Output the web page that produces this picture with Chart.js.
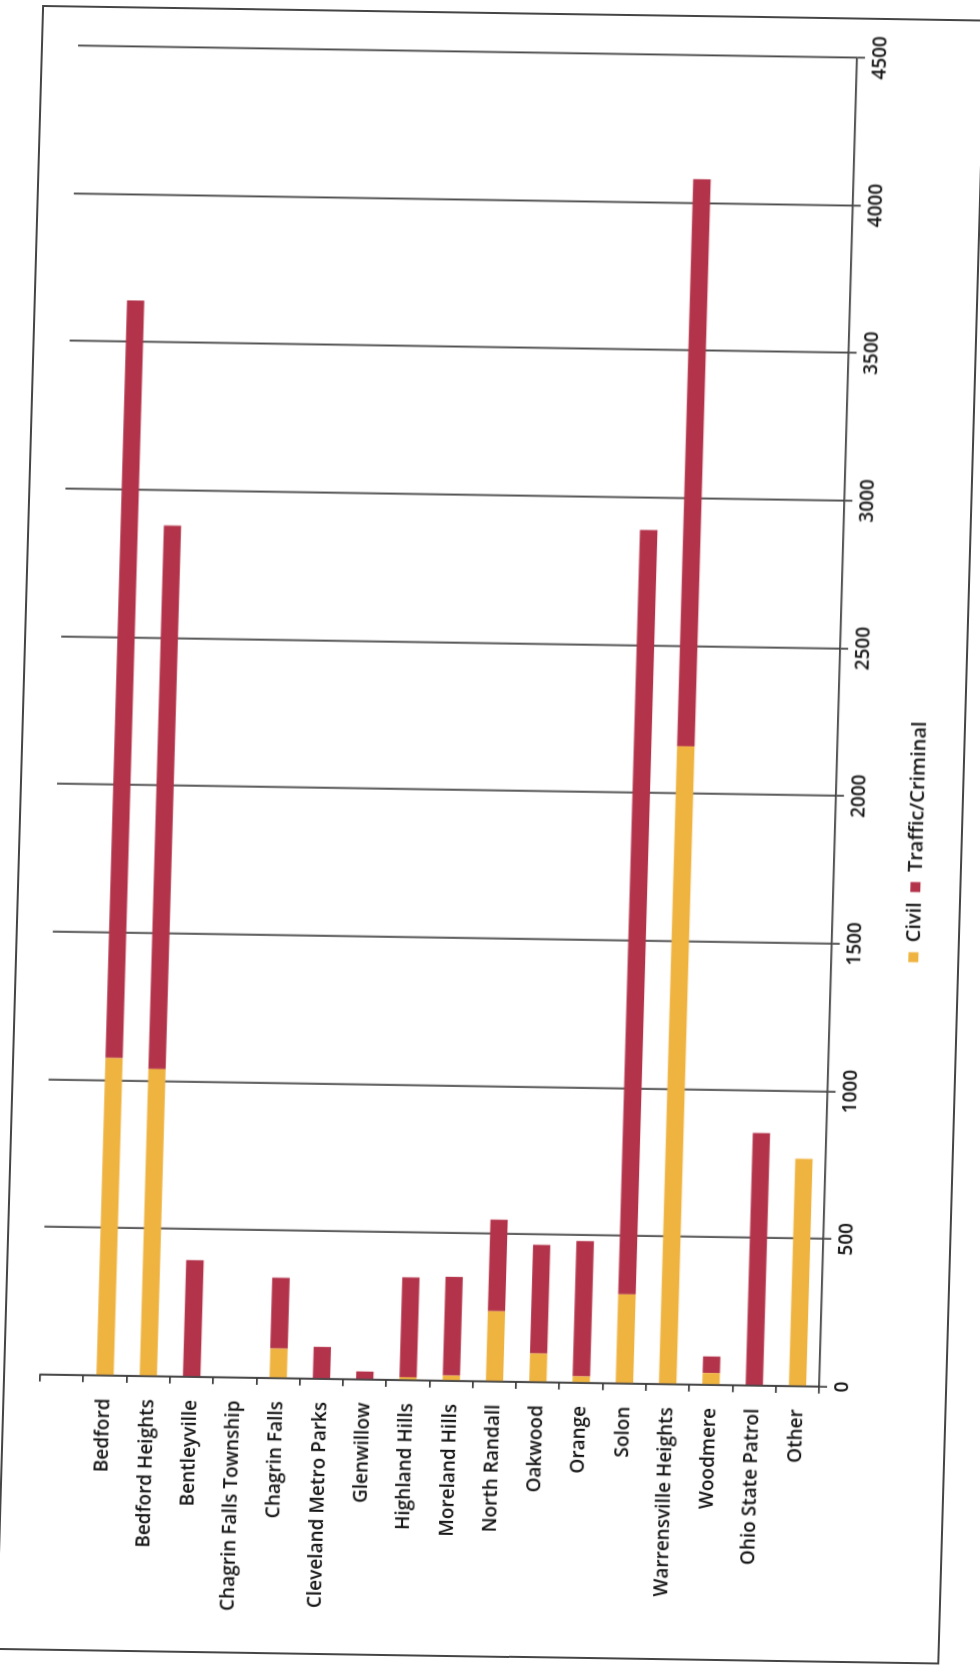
<!DOCTYPE html>
<html>
<head>
<meta charset="utf-8">
<script src="https://cdn.jsdelivr.net/npm/chart.js@4.4.1/dist/chart.umd.min.js"></script>
<style>
  html, body { margin: 0; padding: 0; background: #fff; }
  body { width: 980px; height: 1669px; position: relative; overflow: hidden; }
  /* the scanned page is a landscape chart turned on its side, slightly skewed */
  #sheet {
    position: absolute; left: 0; top: 0; width: 1662px; height: 913px;
    transform-origin: 0 0;
    transform: matrix(0.0285, -1, 1, 0.0155, 0, 1659);
  }
  #frame {
    position: absolute; left: 9px; top: -5px; width: 1641px; height: 940px;
    border: 2px solid #454545;
  }
  #chart { position: absolute; left: 0; top: 0; }
</style>
</head>
<body>
<div id="sheet">
  <div id="frame"></div>
  <canvas id="chart" width="1662" height="913"></canvas>
</div>
<script>
// first slot is an empty band the original leaves before Bedford
const categories = ['', 'Bedford', 'Bedford Heights', 'Bentleyville', 'Chagrin Falls Township',
  'Chagrin Falls', 'Cleveland Metro Parks', 'Glenwillow', 'Highland Hills', 'Moreland Hills',
  'North Randall', 'Oakwood', 'Orange', 'Solon', 'Warrensville Heights', 'Woodmere',
  'Ohio State Patrol', 'Other'];
const civil = [null, 1075, 1040, 0, 0, 100, 0, 0, 10, 18, 238, 97, 22, 302, 2160, 40, 0, 770];
const trafficCriminal = [null, 2565, 1840, 395, 0, 240, 108, 27, 338, 334, 310, 368, 458, 2588, 1920, 56, 855, 0];
const valueTicks = [0, 500, 1000, 1500, 2000, 2500, 3000, 3500, 4000, 4500];

const COLORS = { civil: '#EFB340', traffic: '#B3334A', grid: '#383838', text: '#141414' };
const FONT = '"Open Sans", Lato, sans-serif';

new Chart(document.getElementById('chart').getContext('2d'), {
  type: 'bar',
  data: {
    labels: categories,
    datasets: [
      { label: 'Civil', data: civil, backgroundColor: COLORS.civil, borderWidth: 0,
        barPercentage: 0.4, categoryPercentage: 1 },
      { label: 'Traffic/Criminal', data: trafficCriminal, backgroundColor: COLORS.traffic, borderWidth: 0,
        barPercentage: 0.4, categoryPercentage: 1 }
    ]
  },
  options: {
    indexAxis: 'y',
    responsive: false,
    animation: false,
    layout: { padding: { top: 32, right: 48, bottom: 0, left: 48 } },
    scales: {
      x: {
        stacked: true,
        min: valueTicks[0],
        max: valueTicks[valueTicks.length - 1],
        afterFit: function(scale) { scale.height = 62; },
        ticks: {
          stepSize: 500, padding: 4, color: COLORS.text,
          font: { family: FONT, size: 19, weight: '600' },
          callback: function(value) { return String(value); }
        },
        grid: { color: COLORS.grid, lineWidth: 1.7, tickLength: 8 },
        border: { color: COLORS.grid, width: 1.7 }
      },
      y: {
        stacked: true,
        afterFit: function(scale) { scale.width = 237; },
        ticks: { padding: 16, color: COLORS.text, font: { family: FONT, size: 19, weight: '600' } },
        grid: { drawOnChartArea: false, color: COLORS.grid, lineWidth: 1.7, tickLength: 7 },
        border: { color: COLORS.grid, width: 1.7 }
      }
    },
    plugins: {
      legend: {
        position: 'bottom',
        labels: { boxWidth: 10, boxHeight: 10, padding: 10, color: COLORS.text,
          font: { family: FONT, size: 20, weight: '600' } }
      },
      tooltip: { enabled: false }
    }
  }
});
</script>
</body>
</html>
